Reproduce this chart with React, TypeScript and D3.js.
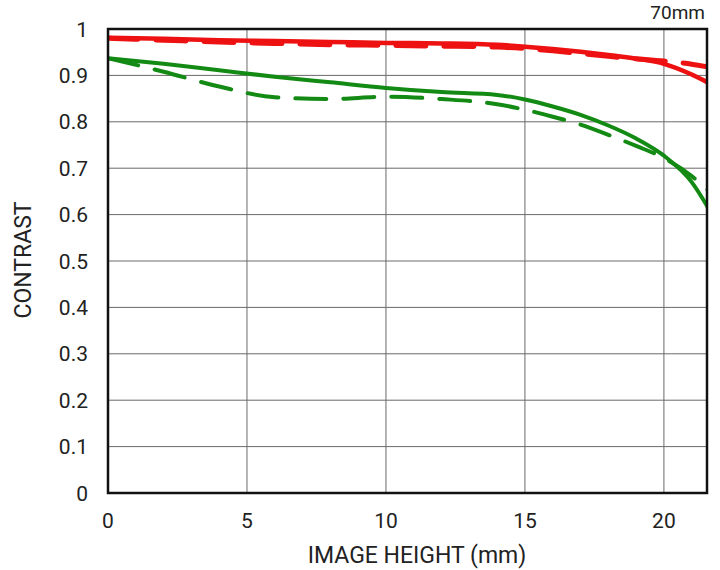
//@ts-nocheck
import React from 'react'
import * as d3 from 'd3'

const xTicks = [0, 5, 10, 15, 20]
const yTicks = [0, 0.1, 0.2, 0.3, 0.4, 0.5, 0.6, 0.7, 0.8, 0.9, 1]
const yTickLabels = ['0', '0.1', '0.2', '0.3', '0.4', '0.5', '0.6', '0.7', '0.8', '0.9', '1']

const heights = [0, 2, 4, 6, 8, 10, 12, 14, 15, 16, 17, 18, 19, 20, 21, 21.6]
const redSolid = [0.981, 0.979, 0.976, 0.974, 0.972, 0.970, 0.969, 0.966, 0.962, 0.957, 0.951, 0.944, 0.936, 0.925, 0.902, 0.884]
const redDashed = [0.980, 0.976, 0.972, 0.969, 0.966, 0.965, 0.963, 0.961, 0.958, 0.953, 0.947, 0.941, 0.936, 0.931, 0.924, 0.918]
const greenSolid = [0.937, 0.925, 0.911, 0.897, 0.885, 0.873, 0.864, 0.858, 0.848, 0.833, 0.815, 0.792, 0.764, 0.727, 0.670, 0.614]
const greenDashed = [0.937, 0.908, 0.876, 0.853, 0.849, 0.854, 0.849, 0.838, 0.826, 0.811, 0.794, 0.772, 0.748, 0.722, 0.683, 0.652]

const series = [
  { values: redSolid, color: '#ee1111', dash: null, width: 4.5 },
  { values: redDashed, color: '#ee1111', dash: '30 18', width: 5 },
  { values: greenDashed, color: '#138a13', dash: '31 17', width: 4 },
  { values: greenSolid, color: '#138a13', dash: null, width: 4 }
]

const W = 720
const H = 570
const margin = { top: 29, right: 13, bottom: 77, left: 108 }
const font = 'Roboto, "DejaVu Sans", sans-serif'

export default function App() {
  const x = d3.scaleLinear().domain([0, 21.55]).range([margin.left, W - margin.right])
  const y = d3.scaleLinear().domain([0, 1]).range([H - margin.bottom, margin.top])

  const line = d3
    .line()
    .curve(d3.curveMonotoneX)
    .x((d) => x(d[0]))
    .y((d) => y(d[1]))

  return (
    <svg width={W} height={H} style={{ position: 'absolute', left: 0, top: 0, background: '#fff' }}>
      <defs>
        <clipPath id="plot">
          <rect x={margin.left} y={margin.top - 5} width={W - margin.left - margin.right} height={H - margin.top - margin.bottom + 5} />
        </clipPath>
      </defs>
      {yTicks.map((t) => (
        <line key={'gy' + t} x1={x(0)} x2={x(21.55)} y1={y(t)} y2={y(t)} stroke="#6a6a6a" strokeWidth={1} />
      ))}
      {xTicks.map((t) => (
        <line key={'gx' + t} x1={x(t)} x2={x(t)} y1={y(0)} y2={y(1)} stroke="#6a6a6a" strokeWidth={1} />
      ))}
      <g clipPath="url(#plot)">
        {series.map((s, i) => (
          <path
            key={i}
            d={line(heights.map((h, j) => [h, s.values[j]]))}
            fill="none"
            stroke={s.color}
            strokeWidth={s.width}
            strokeDasharray={s.dash || undefined}
            strokeLinecap={s.dash ? 'round' : 'butt'}
          />
        ))}
      </g>
      <rect x={x(0)} y={y(1)} width={x(21.55) - x(0)} height={y(0) - y(1)} fill="none" stroke="#111" strokeWidth={2.5} />
      {yTicks.map((t, i) => (
        <text key={'ty' + t} x={88} y={y(t)} dy="0.36em" textAnchor="end" fontFamily={font} fontSize={21} fill="#222">
          {yTickLabels[i]}
        </text>
      ))}
      {xTicks.map((t) => (
        <text key={'tx' + t} x={x(t)} y={528} textAnchor="middle" fontFamily={font} fontSize={21} fill="#222">
          {t}
        </text>
      ))}
      <text x={417} y={563} textAnchor="middle" fontFamily={font} fontSize={23} fill="#222">
        IMAGE HEIGHT (mm)
      </text>
      <text transform={`translate(31,${260}) rotate(-90)`} textAnchor="middle" fontFamily={font} fontSize={23} fill="#222">
        CONTRAST
      </text>
      <text x={705} y={19} textAnchor="end" fontFamily={font} fontSize={19} fill="#222">
        70mm
      </text>
    </svg>
  )
}
